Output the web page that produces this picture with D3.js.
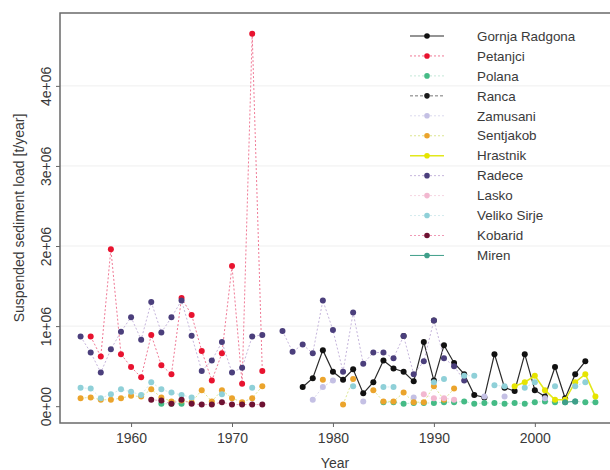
<!DOCTYPE html>
<html><head><meta charset="utf-8">
<script src="https://cdn.jsdelivr.net/npm/d3@7"></script>
<style>
body{margin:0;background:#fff}
svg{display:block}
text{font-family:"Liberation Sans",Arial,Helvetica,sans-serif;fill:#3a3a3a}
</style>
</head><body>
<svg id="chart" width="610" height="470"></svg>
<script>
// ---------- data (t/year) ----------
const stationNames = ["Gornja Radgona","Petanjci","Polana","Ranca","Zamusani","Sentjakob","Hrastnik","Radece","Lasko","Veliko Sirje","Kobarid","Miren"];

const gornjaRadgona = [[1977,0.24e6],[1978,0.35e6],[1979,0.70e6],[1980,0.43e6],[1981,0.33e6],[1982,0.46e6],[1983,0.16e6],[1984,0.30e6],[1985,0.57e6],[1986,0.47e6],[1987,0.43e6],[1988,0.31e6],[1989,0.80e6],[1990,0.32e6],[1991,0.76e6],[1992,0.54e6],[1993,0.40e6],[1994,0.14e6],[1995,0.11e6],[1996,0.65e6],[1997,0.23e6],[1998,0.19e6],[1999,0.65e6],[2000,0.20e6],[2001,0.12e6],[2002,0.49e6],[2003,0.10e6],[2004,0.40e6],[2005,0.56e6]];

const petanjci = [[1956,0.87e6],[1957,0.62e6],[1958,1.96e6],[1959,0.65e6],[1960,0.49e6],[1961,0.36e6],[1962,0.89e6],[1963,0.51e6],[1964,0.40e6],[1965,1.35e6],[1966,1.14e6],[1967,0.69e6],[1968,0.32e6],[1969,0.66e6],[1970,1.75e6],[1971,0.28e6],[1972,4.65e6],[1973,0.44e6]];

const polana = [[1963,0.03e6],[1964,0.03e6],[1965,0.03e6],[1966,null],[1985,0.05e6],[1986,0.05e6],[1987,0.03e6],[1988,0.04e6],[1989,0.04e6],[1990,0.04e6],[1991,0.05e6],[1992,0.05e6],[1993,0.06e6],[1994,0.03e6],[1995,0.04e6],[1996,0.04e6],[1997,0.03e6],[1998,0.04e6],[1999,0.03e6],[2000,0.05e6],[2001,0.06e6],[2002,0.05e6],[2003,0.05e6],[2004,0.06e6],[2005,0.05e6],[2006,0.05e6]];

const ranca = [[1987,0.875e6],[1988,null],[1990,1.07e6]];

const zamusani = [[1978,0.08e6],[1979,0.24e6],[1980,0.32e6],[1981,null],[1983,0.06e6],[1984,null],[1988,0.11e6],[1989,null],[1995,0.12e6],[1996,null],[1997,0.12e6],[1998,null],[2001,0.10e6]];

const sentjakob = [[1955,0.10e6],[1956,0.11e6],[1957,0.08e6],[1958,0.08e6],[1959,0.10e6],[1960,0.13e6],[1961,0.12e6],[1962,0.21e6],[1963,0.11e6],[1964,0.06e6],[1965,0.07e6],[1966,0.05e6],[1967,0.20e6],[1968,0.06e6],[1969,0.20e6],[1970,0.10e6],[1971,0.05e6],[1972,0.10e6],[1973,0.25e6],[1974,null],[1979,0.33e6],[1980,null],[1981,0.02e6],[1982,0.34e6],[1983,null],[1984,0.20e6],[1985,0.06e6],[1986,0.06e6],[1987,0.17e6],[1988,0.05e6],[1989,0.05e6],[1990,0.25e6],[1991,0.08e6],[1992,0.22e6]];

const hrastnik = [[1998,0.25e6],[1999,0.30e6],[2000,0.38e6],[2001,0.20e6],[2002,0.08e6],[2003,0.08e6],[2004,0.30e6],[2005,0.40e6],[2006,0.12e6]];

const radece = [[1955,0.87e6],[1956,0.67e6],[1957,0.42e6],[1958,0.71e6],[1959,0.93e6],[1960,1.11e6],[1961,0.83e6],[1962,1.30e6],[1963,0.92e6],[1964,1.11e6],[1965,1.32e6],[1966,0.88e6],[1967,0.44e6],[1968,0.57e6],[1969,0.80e6],[1970,0.42e6],[1971,0.48e6],[1972,0.87e6],[1973,0.89e6],[1974,null],[1975,0.94e6],[1976,0.68e6],[1977,0.77e6],[1978,0.66e6],[1979,1.32e6],[1980,0.95e6],[1981,0.43e6],[1982,1.17e6],[1983,0.53e6],[1984,0.67e6],[1985,0.67e6],[1986,0.60e6],[1987,0.875e6],[1988,0.40e6],[1989,0.56e6],[1990,1.07e6],[1991,0.60e6],[1992,0.50e6],[1993,0.32e6]];

const lasko = [[1989,0.15e6],[1990,0.10e6],[1991,0.10e6],[1992,0.08e6]];

const velikoSirje = [[1955,0.23e6],[1956,0.22e6],[1957,0.10e6],[1958,0.15e6],[1959,0.21e6],[1960,0.18e6],[1961,0.14e6],[1962,0.30e6],[1963,0.21e6],[1964,0.17e6],[1965,0.14e6],[1966,0.11e6],[1967,null],[1969,0.15e6],[1970,null],[1972,0.23e6],[1973,null],[1982,0.25e6],[1983,null],[1985,0.24e6],[1986,0.24e6],[1987,null],[1990,0.30e6],[1991,0.34e6],[1992,null],[1993,0.38e6],[1994,0.38e6],[1995,null],[1996,0.26e6],[1997,0.25e6],[1998,null],[1999,0.23e6],[2000,0.30e6],[2001,null],[2002,0.25e6],[2003,null],[2004,0.25e6],[2005,0.30e6]];

const kobarid = [[1962,0.08e6],[1963,0.07e6],[1964,0.03e6],[1965,0.08e6],[1966,0.03e6],[1967,0.02e6],[1968,0.02e6],[1969,0.05e6],[1970,0.02e6],[1971,0.02e6],[1972,0.02e6],[1973,0.02e6]];

const miren = [[2003,0.05e6],[2004,0.06e6]];

const seriesData = [gornjaRadgona,petanjci,polana,ranca,zamusani,sentjakob,hrastnik,radece,lasko,velikoSirje,kobarid,miren];

const xTicks = [1960,1970,1980,1990,2000];
const yTicks = [0,1e6,2e6,3e6,4e6];
const yTickLabels = ["0e+00","1e+06","2e+06","3e+06","4e+06"];

// ---------- styles ----------
const pointColors = ["#111111","#e8132f","#45bb86","#1a1a1a","#c4c0e4","#eba42c","#e6e400","#4b3f7c","#f2b8d0","#8fd0d8","#6e1232","#3f9f8a"];
const lineColors  = ["#2a2a2a","#f07a96","#c4e8d8","#777777","#dcdaee","#dce690","#e2e81c","#c6b6dc","#f6d6e2","#d4ecee","#f09ab6","#3f9f8a"];
const lineDash    = [null,"2,2","2,2","3,2","2,2","2,2",null,"2,2","2,2","2,2","2,2",null];
const lineWidths  = [1.2,1,1,1,1,1,1.6,1,1,1,1,1];

// ---------- layout ----------
const svg = d3.select("#chart");
const L = 60, R = 616, T = 13, B = 423;
const x = d3.scaleLinear().domain([1952.96, 2008.04]).range([L, R]);
const y = d3.scaleLinear().domain([-0.21e6, 4.91e6]).range([B, T]);

svg.append("defs").append("clipPath").attr("id","clip")
  .append("rect").attr("x",L).attr("y",T).attr("width",R-L).attr("height",B-T);

// faint grid
svg.append("g").selectAll("line").data(yTicks.slice(1)).join("line")
  .attr("x1",L).attr("x2",R).attr("y1",d=>y(d)).attr("y2",d=>y(d))
  .attr("stroke","#efefef").attr("stroke-width",1);

const plot = svg.append("g").attr("clip-path","url(#clip)");
const line = d3.line().defined(d=>d[1]!=null).x(d=>x(d[0])).y(d=>y(d[1]));

seriesData.forEach((data,i)=>{
  const g = plot.append("g");
  const path = g.append("path").datum(data).attr("d",line)
    .attr("fill","none").attr("stroke",lineColors[i]).attr("stroke-width",lineWidths[i]);
  if(lineDash[i]) path.attr("stroke-dasharray",lineDash[i]);
  g.selectAll("circle").data(data.filter(d=>d[1]!=null)).join("circle")
    .attr("cx",d=>x(d[0])).attr("cy",d=>y(d[1])).attr("r",3)
    .attr("fill",pointColors[i]);
});

// box
svg.append("rect").attr("x",L).attr("y",T).attr("width",R-L).attr("height",B-T)
  .attr("fill","none").attr("stroke","#6a6a6a").attr("stroke-width",1.5);

// x axis
const xAxis = d3.axisBottom(x).tickValues(xTicks).tickSize(4).tickPadding(6).tickFormat(d3.format("d"));
const gx = svg.append("g").attr("transform",`translate(0,${B})`).call(xAxis);
gx.select(".domain").remove();
gx.selectAll("line").attr("stroke","#666");
gx.selectAll("text").attr("font-size",14).attr("fill","#3a3a3a").attr("font-family","Liberation Sans, Arial, sans-serif");

// y axis
const yAxis = d3.axisLeft(y).tickValues(yTicks).tickSize(4).tickFormat((d,i)=>yTickLabels[i]);
const gy = svg.append("g").attr("transform",`translate(${L},0)`).call(yAxis);
gy.select(".domain").remove();
gy.selectAll("line").attr("stroke","#666");
gy.selectAll("text")
  .attr("font-size",14).attr("fill","#3a3a3a").attr("font-family","Liberation Sans, Arial, sans-serif")
  .attr("text-anchor","middle").attr("dy",null).attr("x",null)
  .attr("transform","translate(-9,0) rotate(-90)");

// axis titles
svg.append("text").attr("x",(L+R)/2-3).attr("y",468).attr("text-anchor","middle")
  .attr("font-size",14).text("Year");
svg.append("text").attr("transform",`translate(24,${(T+B)/2}) rotate(-90)`)
  .attr("text-anchor","middle").attr("font-size",14).text("Suspended sediment load [t/year]");

// legend
const leg = svg.append("g");
stationNames.forEach((name,i)=>{
  const ly = 36 + i*19.95;
  const ln = leg.append("line").attr("x1",410).attr("x2",444).attr("y1",ly).attr("y2",ly)
    .attr("stroke",lineColors[i]).attr("stroke-width",lineWidths[i]);
  if(lineDash[i]) ln.attr("stroke-dasharray",lineDash[i]);
  leg.append("circle").attr("cx",427).attr("cy",ly).attr("r",2.8).attr("fill",pointColors[i]);
  leg.append("text").attr("x",477).attr("y",ly+4.7).attr("font-size",13.4).text(name);
});
</script>
</body></html>
